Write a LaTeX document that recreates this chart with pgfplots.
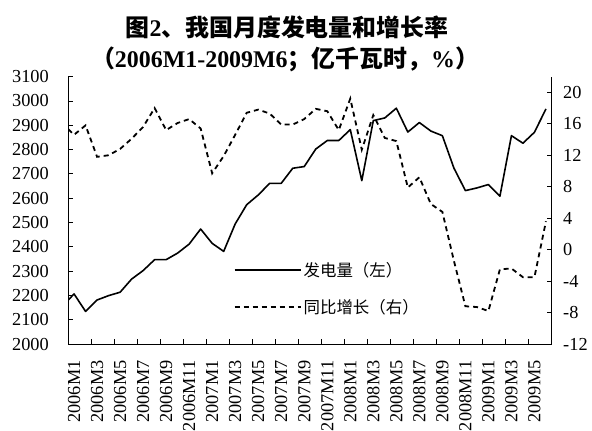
\documentclass[border=0pt]{standalone}
\usepackage{fontspec}
\usepackage{pgfplots}
\pgfplotsset{compat=1.18}
\setmainfont{Liberation Serif}
\newfontfamily\cjk{Noto Sans CJK SC}
\begin{document}
\begin{tikzpicture}[x=1bp,y=1bp]
\useasboundingbox (0,0) rectangle (592,430);
\node[anchor=base,font=\fontsize{24}{26}\selectfont] at (287,393) {{\cjk\bfseries 图}\textbf{2}{\cjk\bfseries 、我国月度发电量和增长率}};
\node[anchor=base,font=\fontsize{24}{26}\selectfont] at (285,363) {{\cjk\bfseries （}\textbf{2006M1-2009M6}{\cjk\bfseries ；亿千瓦时，}\textbf{\%}{\cjk\bfseries ）}};
\begin{axis}[
  at={(68.3bp,86bp)}, anchor=south west,
  scale only axis, width=483.4bp, height=267.4bp,
  xmin=-0.5, xmax=41.5, ymin=2000, ymax=3100,
  axis x line*=bottom, axis y line*=left,
  axis line style={-, black, line width=0.8bp},
  tick align=inside, major tick length=5bp,
  tick style={black, line width=0.8bp},
  xtick={-0.5,1.5,...,41.5},
  xticklabels={2006M1,2006M3,2006M5,2006M7,2006M9,2006M11,2007M1,2007M3,2007M5,2007M7,2007M9,2007M11,2008M1,2008M3,2008M5,2008M7,2008M9,2008M11,2009M1,2009M3,2009M5,{}},
  xticklabel style={xshift=5.755bp, yshift=-13bp, rotate=90, anchor=east},
  ytick={2000,2100,...,3100},
  yticklabel style={xshift=-16bp},
  tick label style={font=\fontsize{18.4}{20}\selectfont},
  /pgf/number format/1000 sep={},
  /pgf/number format/assume math mode=true,
  legend style={at={(0.342,0.315)}, anchor=north west, draw=none, fill=none,
    font=\cjk\fontsize{16.5}{18}\selectfont, inner sep=0pt, row sep=18bp,
    nodes={inner sep=2bp}},
  legend cell align=left,
  legend image code/.code={\draw[#1] (0bp,0bp) -- (66bp,0bp);},
]
\addplot[black, line width=1.6bp, line join=round] coordinates {
(-0.5,2181) (0,2206) (1,2134) (2,2181) (3,2199) (4,2213) (5,2267) (6,2302) (7,2347) (8,2347) (9,2374) (10,2411) (11,2473) (12,2414) (13,2381) (14,2494) (15,2573) (16,2613) (17,2661) (18,2661) (19,2723) (20,2730) (21,2802) (22,2837) (23,2837) (24,2882) (25,2672) (26,2919) (27,2930) (28,2970) (29,2872) (30,2911) (31,2876) (32,2857) (33,2724) (34,2631) (35,2642) (36,2656) (37,2608) (38,2857) (39,2826) (40,2871) (41,2967)
};
\addlegendentry{发电量（左）}
\addlegendimage{black, line width=1.8bp, dash pattern=on 5bp off 4bp}
\addlegendentry{同比增长（右）}
\end{axis}
\begin{axis}[
  at={(68.3bp,86bp)}, anchor=south west,
  scale only axis, width=483.4bp, height=267.4bp,
  xmin=-0.5, xmax=41.5, ymin=-12, ymax=22,
  axis x line=none, axis y line*=right,
  axis line style={-, black, line width=0.8bp},
  tick align=inside, major tick length=5bp,
  tick style={black, line width=0.8bp},
  ytick={-12,-8,...,20},
  yticklabel style={xshift=8bp},
  tick label style={font=\fontsize{18.4}{20}\selectfont},
  /pgf/number format/assume math mode=true,
]
\addplot[black, line width=1.8bp, dash pattern=on 5bp off 4bp] coordinates {
(-0.5,15.3) (0,14.6) (1,15.8) (2,11.8) (3,12.0) (4,12.8) (5,14.1) (6,15.6) (7,18.0) (8,15.2) (9,16.1) (10,16.6) (11,15.4) (12,9.7) (13,11.9) (14,14.6) (15,17.4) (16,17.8) (17,17.3) (18,15.9) (19,15.9) (20,16.6) (21,17.9) (22,17.6) (23,15.2) (24,19.2) (25,12.7) (26,17.1) (27,14.2) (28,13.8) (29,7.9) (30,9.2) (31,5.8) (32,4.8) (33,-1.4) (34,-7.2) (35,-7.3) (36,-7.8) (37,-2.5) (38,-2.4) (39,-3.5) (40,-3.5) (41,3.6)
};
\end{axis}
\end{tikzpicture}
\end{document}
